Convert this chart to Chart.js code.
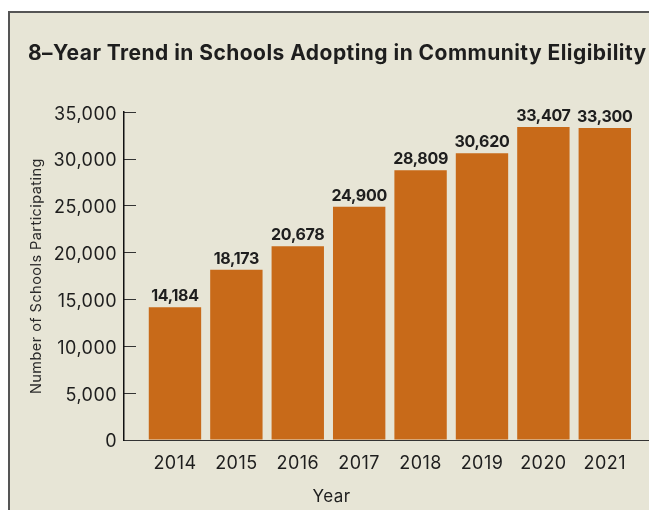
<!DOCTYPE html>
<html>
<head>
<meta charset="utf-8">
<script src="https://cdn.jsdelivr.net/npm/chart.js@4.4.0/dist/chart.umd.min.js"></script>
<style>
  html, body { margin: 0; padding: 0; background: #fff; overflow: hidden; }
  .frame {
    position: absolute; left: 8px; top: 11px; width: 700px; height: 560px;
    border-left: 2.5px solid #555; border-top: 2.5px solid #555;
    background: #e7e5d6;
  }
  #wrap { position: absolute; left: 0; top: 0; width: 649px; height: 510px; }
</style>
</head>
<body>
<div class="frame"></div>
<div id="wrap"><canvas id="chart" width="649" height="510"></canvas></div>
<script>
const years = ['2014', '2015', '2016', '2017', '2018', '2019', '2020', '2021'];
const schools = [14184, 18173, 20678, 24900, 28809, 30620, 33407, 33300];
const yTicks = [0, 5000, 10000, 15000, 20000, 25000, 30000, 35000];

const barColor = '#c86a19';
const textColor = '#1e1e1e';

// the reference font is wide, so space the letters a little
const spacingPlugin = {
  id: 'spacing',
  beforeDraw(chart) { chart.ctx.letterSpacing = '0.45px'; },
  afterDraw(chart) { chart.ctx.letterSpacing = '0px'; }
};

// bar value labels + x axis title
const labelsPlugin = {
  id: 'barLabels',
  afterDatasetsDraw(chart) {
    const ctx = chart.ctx;
    const meta = chart.getDatasetMeta(0);
    ctx.save();
    ctx.fillStyle = textColor;
    ctx.font = 'bold 16px Inter';
    ctx.letterSpacing = '-0.3px';
    ctx.textAlign = 'center';
    ctx.textBaseline = 'alphabetic';
    meta.data.forEach((bar, i) => {
      ctx.fillText(schools[i].toLocaleString('en-US'), bar.x, bar.y - 6);
    });
    ctx.letterSpacing = '0.45px';
    ctx.font = '17px Inter';
    ctx.textBaseline = 'middle';
    const xs = chart.scales.x;
    ctx.fillText('Year', xs.getPixelForValue(2.55), 497);
    ctx.restore();
  }
};

new Chart(document.getElementById('chart'), {
  type: 'bar',
  data: {
    datasets: [{
      data: schools.map((v, i) => ({ x: i, y: v })),
      backgroundColor: barColor,
      borderWidth: 0,
      categoryPercentage: 1,
      barPercentage: 0.853
    }]
  },
  options: {
    responsive: false,
    animation: false,
    layout: { padding: { left: 28, right: 0, top: 0, bottom: 0 } },
    plugins: {
      legend: { display: false },
      tooltip: { enabled: false },
      title: {
        display: true,
        text: '8\u2013Year Trend in Schools Adopting in Community Eligibility',
        align: 'start',
        color: textColor,
        font: { family: 'Inter', size: 21, weight: 'bold', lineHeight: 1.2 },
        padding: { top: 41, bottom: 46 }
      }
    },
    scales: {
      x: {
        type: 'linear',
        offset: false,
        min: -0.83,
        max: 7.72,
        afterBuildTicks: s => { s.ticks = years.map((_, i) => ({ value: i })); },
        afterFit: s => { s.height = 70; },
        grid: { display: false },
        border: { display: true, color: '#333', width: 1 },
        ticks: {
          color: textColor,
          font: { family: 'Inter', size: 18 },
          padding: 5,
          maxRotation: 0,
          autoSkip: false,
          callback: v => years[v]
        }
      },
      y: {
        min: 0,
        max: 35000,
        afterBuildTicks: s => { s.ticks = yTicks.map(v => ({ value: v })); },
        afterFit: s => { s.width = 96; },
        grid: {
          drawOnChartArea: false,
          drawTicks: true,
          tickLength: -12,
          color: '#333',
          lineWidth: 1
        },
        border: { display: true, color: '#111', width: 1.5 },
        ticks: {
          color: textColor,
          font: { family: 'Inter', size: 18 },
          padding: 19,
          labelOffset: 2,
          callback: v => v.toLocaleString('en-US')
        },
        title: {
          display: true,
          text: 'Number of Schools Participating',
          color: '#2a2a2a',
          font: { family: 'Inter', size: 14.5 },
          padding: { top: 0, bottom: 0 }
        }
      }
    }
  },
  plugins: [spacingPlugin, labelsPlugin]
});
</script>
</body>
</html>
